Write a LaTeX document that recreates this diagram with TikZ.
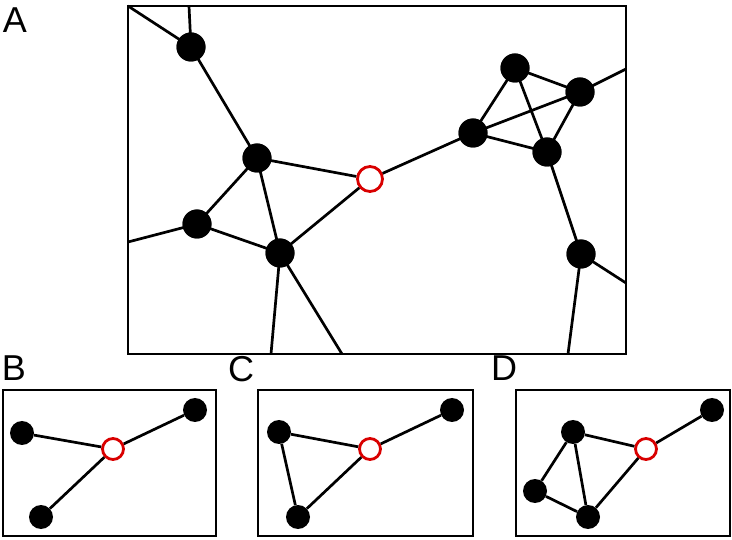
\documentclass[tikz,border=0pt]{standalone}
\usepackage{fontspec}
\setmainfont{Liberation Sans}
\begin{document}
\begin{tikzpicture}[x=1pt,y=-1pt,
  big/.style={circle,fill=black,inner sep=0pt,minimum size=29pt},
  small/.style={circle,fill=black,inner sep=0pt,minimum size=24pt},
  redbig/.style={circle,draw=red!85!black,line width=2.8pt,fill=white,inner sep=0pt,minimum size=25pt},
  redsmall/.style={circle,draw=red!85!black,line width=2.8pt,fill=white,inner sep=0pt,minimum size=21pt},
  edge/.style={line width=2.7pt,black},
  frame/.style={line width=2.3pt,black},
  lab/.style={font=\fontsize{36}{36}\selectfont,inner sep=0pt}]
\useasboundingbox (0,0) rectangle (732,540);
% labels
\node[lab] (LA) at (15,20) {A};
\node[lab] (LB) at (14,368) {B};
\node[lab] (LC) at (241,369) {C};
\node[lab] (LD) at (504,368) {D};
% Panel A
\draw[frame] (128,6) rectangle (626,354);
\coordinate (e1) at (128,6);
\coordinate (e2) at (189,6);
\coordinate (e3) at (128,242);
\coordinate (e4) at (271,354);
\coordinate (e5) at (342,354);
\coordinate (e6) at (626,69);
\coordinate (e7) at (626,283);
\coordinate (e8) at (568,354);
\node[big] (a1) at (191,47) {};
\node[big] (a2) at (257,158) {};
\node[big] (a3) at (197,224) {};
\node[big] (a4) at (280,253) {};
\node[big] (a5) at (473,133) {};
\node[big] (a6) at (515,68) {};
\node[big] (a7) at (580,92) {};
\node[big] (a8) at (547,152) {};
\node[big] (a9) at (581,254) {};
\node[redbig] (ar) at (370,179) {};
\draw[edge] (e1) -- (a1.center) (e2) -- (a1.center) (a1.center) -- (a2.center)
  (a2.center) -- (a3.center) (a2.center) -- (a4.center) (a2.center) -- (ar)
  (e3) -- (a3.center) (a3.center) -- (a4.center) (a4.center) -- (ar)
  (a4.center) -- (e4) (a4.center) -- (e5) (ar) -- (a5.center)
  (a5.center) -- (a6.center) (a5.center) -- (a7.center) (a5.center) -- (a8.center)
  (a6.center) -- (a7.center) (a6.center) -- (a8.center) (a7.center) -- (a8.center)
  (a7.center) -- (e6) (a8.center) -- (a9.center) (a9.center) -- (e7) (a9.center) -- (e8);
\foreach \n in {a1,a2,a3,a4,a5,a6,a7,a8,a9} \fill (\n) circle (14.5pt);
% Panel B
\draw[frame] (3,390) rectangle (216,536);
\node[small] (b1) at (22,433) {};
\node[small] (b2) at (195,410) {};
\node[small] (b3) at (41,517) {};
\node[redsmall] (br) at (113,449) {};
\draw[edge] (b1) -- (br) (br) -- (b2) (br) -- (b3);
% Panel C
\draw[frame] (258,390) rectangle (473,536);
\node[small] (c1) at (279,432) {};
\node[small] (c2) at (452,410) {};
\node[small] (c3) at (298,517) {};
\node[redsmall] (cr) at (370,449) {};
\draw[edge] (c1) -- (cr) (cr) -- (c2) (cr) -- (c3) (c1) -- (c3);
% Panel D
\draw[frame] (516,390) rectangle (730,536);
\node[small] (d1) at (573,432) {};
\node[small] (d2) at (712,410) {};
\node[small] (d3) at (535,491) {};
\node[small] (d4) at (588,517) {};
\node[redsmall] (dr) at (646,449) {};
\draw[edge] (d1) -- (dr) (dr) -- (d2) (dr) -- (d4) (d1) -- (d3) (d3) -- (d4) (d1) -- (d4);
\end{tikzpicture}
\end{document}
